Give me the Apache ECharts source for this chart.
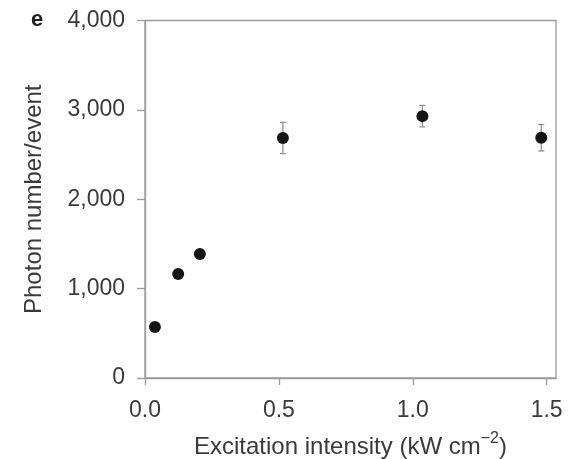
<!DOCTYPE html>
<html>
<head>
<meta charset="utf-8">
<script src="https://cdn.jsdelivr.net/npm/echarts@6/dist/echarts.min.js"></script>
<style>
html,body{margin:0;padding:0;background:#fff;}
#chart{width:569px;height:459px;}
</style>
</head>
<body>
<div id="chart"></div>
<script>
var xIntensity = [0.037, 0.124, 0.205, 0.515, 1.036, 1.480];
var photons = [570, 1163, 1387, 2685, 2930, 2688];
var photonErr = [0, 0, 0, 175, 120, 148];
var xTicks = [0, 0.5, 1.0, 1.5];
var yTicks = [0, 1000, 2000, 3000, 4000];
var panelLetter = 'e';

var pts = xIntensity.map(function (x, i) { return [x, photons[i]]; });
var errs = xIntensity.map(function (x, i) { return [x, photons[i] - photonErr[i], photons[i] + photonErr[i]]; });

var chart = echarts.init(document.getElementById('chart'), null, {renderer: 'canvas'});
var font = '"Liberation Sans", Arial, Helvetica, sans-serif';
var axisGray = '#9a9a9a';
var textCol = '#3a3a3a';

chart.setOption({
  animation: false,
  backgroundColor: '#fff',
  grid: {left: 145, right: 13, top: 20.5, bottom: 81, containLabel: false, outerBoundsMode: 'none',
    show: true, borderColor: axisGray, borderWidth: 1.3, backgroundColor: 'transparent'},
  graphic: [{
    type: 'text', left: 31, top: 9,
    style: {text: panelLetter, font: 'bold 22px ' + font, fill: '#222'}
  }],
  xAxis: {
    type: 'value', min: 0, max: 1.535,
    splitLine: {show: false},
    axisLine: {show: true, lineStyle: {color: axisGray, width: 1.3}},
    axisTick: {show: true, length: 7, lineStyle: {color: axisGray, width: 1.3}, customValues: xTicks},
    axisLabel: {customValues: xTicks, margin: 21, fontSize: 23, fontFamily: font, color: textCol,
      formatter: function (v) { return v.toFixed(1); }},
    name: '{a|Excitation intensity (kW cm}{s|−2}{a|)}',
    nameLocation: 'middle', nameGap: 53,
    nameTextStyle: {
      rich: {
        a: {fontSize: 24, fontFamily: font, color: textCol, lineHeight: 28, verticalAlign: 'bottom'},
        s: {fontSize: 16, fontFamily: font, color: textCol, lineHeight: 28, verticalAlign: 'top'}
      }
    }
  },
  yAxis: {
    type: 'value', min: 0, max: 4000, interval: 1000,
    splitLine: {show: false},
    axisLine: {show: true, lineStyle: {color: axisGray, width: 1.3}},
    axisTick: {show: true, length: 8, lineStyle: {color: axisGray, width: 1.3}},
    axisLabel: {margin: 20, fontSize: 23, fontFamily: font, color: textCol,
      formatter: function (v) { return v.toLocaleString('en-US'); }},
    name: 'Photon number/event',
    nameLocation: 'middle', nameGap: 99,
    nameTextStyle: {fontSize: 24, fontFamily: font, color: textCol}
  },
  series: [{
    type: 'custom',
    data: errs,
    z: 1,
    renderItem: function (params, api) {
      var x = api.value(0), lo = api.value(1), hi = api.value(2);
      if (hi - lo <= 0) return null;
      var pLo = api.coord([x, lo]);
      var pHi = api.coord([x, hi]);
      var cw = 3;
      var st = {stroke: '#8a8a8a', lineWidth: 1.2};
      return {type: 'group', children: [
        {type: 'line', shape: {x1: pLo[0], y1: pLo[1], x2: pHi[0], y2: pHi[1]}, style: st},
        {type: 'line', shape: {x1: pLo[0] - cw, y1: pLo[1], x2: pLo[0] + cw, y2: pLo[1]}, style: st},
        {type: 'line', shape: {x1: pHi[0] - cw, y1: pHi[1], x2: pHi[0] + cw, y2: pHi[1]}, style: st}
      ]};
    }
  }, {
    type: 'scatter',
    data: pts,
    z: 3,
    symbol: 'circle',
    symbolSize: 12,
    itemStyle: {color: '#151515', opacity: 1}
  }]
});
</script>
</body>
</html>
